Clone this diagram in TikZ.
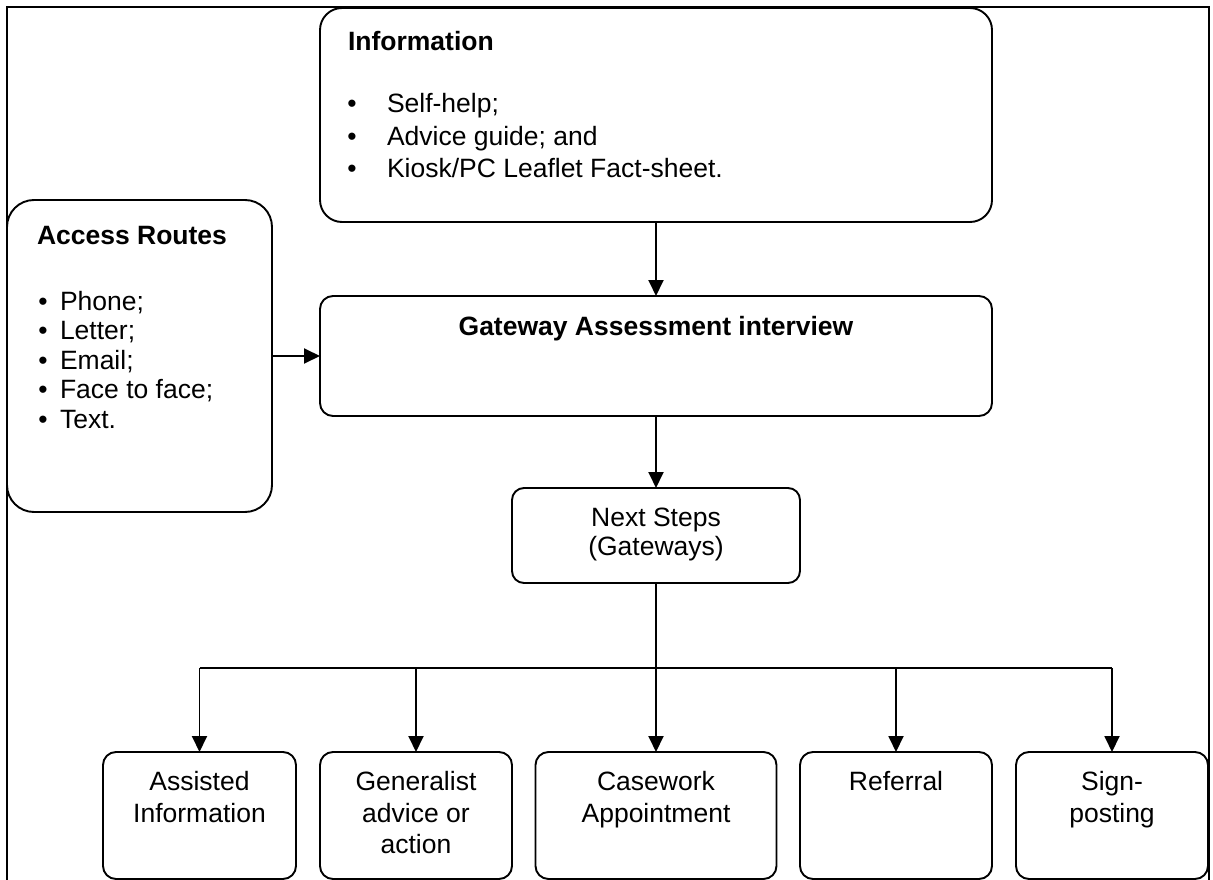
\documentclass[tikz,border=0pt]{standalone}
\usepackage{fontspec}
\setmainfont{Liberation Sans}
\usetikzlibrary{arrows.meta}
\begin{document}
\begin{tikzpicture}[x=1pt,y=-1pt,line width=1.9pt,
  box/.style={draw,rectangle,inner sep=0pt,outer sep=0pt},
  txt/.style={inner sep=0pt,outer sep=0pt,font=\fontsize{26.5}{30}\selectfont},
  hd/.style={txt,font=\fontsize{26.5}{30}\selectfont\bfseries},
  arr/.style={-{Triangle[length=16pt,width=15pt]}}]
\useasboundingbox (0,0) rectangle (1213,880);
% frame
\draw[line width=1.6pt] (7,882) -- (7,7) -- (1209,7) -- (1209,882);
% boxes
\node[box,rounded corners=22pt,minimum width=672pt,minimum height=214pt] (info) at (656,115) {};
\node[box,rounded corners=27pt,minimum width=265pt,minimum height=312pt] (access) at (139.5,356) {};
\node[box,rounded corners=13pt,minimum width=672pt,minimum height=120pt] (gate) at (656,356) {};
\node[box,rounded corners=12pt,minimum width=288pt,minimum height=95pt] (next) at (656,535.5) {};
\node[box,rounded corners=13pt,minimum width=193pt,minimum height=127pt] (b1) at (199.5,815.5) {};
\node[box,rounded corners=13pt,minimum width=192pt,minimum height=127pt] (b2) at (416,815.5) {};
\node[box,rounded corners=13pt,minimum width=241pt,minimum height=127pt] (b3) at (656,815.5) {};
\node[box,rounded corners=13pt,minimum width=192pt,minimum height=127pt] (b4) at (896,815.5) {};
\node[box,rounded corners=13pt,minimum width=192pt,minimum height=127pt] (b5) at (1112,815.5) {};
% texts: information
\node[hd,anchor=base west] (infoh) at (348,51) {Information};
\node[txt,anchor=base] (ib1) at (352,113) {•};
\node[txt,anchor=base] (ib2) at (352,145.5) {•};
\node[txt,anchor=base] (ib3) at (352,178) {•};
\node[txt,anchor=base west] (it1) at (387,113) {Self-help;};
\node[txt,anchor=base west] (it2) at (387,145.5) {Advice guide; and};
\node[txt,anchor=base west] (it3) at (387,178) {Kiosk/PC Leaflet Fact-sheet.};
% texts: access routes
\node[hd,anchor=base west] (acch) at (37,244) {Access Routes};
\node[txt,anchor=base] (ab1) at (43,310) {•};
\node[txt,anchor=base] (ab2) at (43,339.5) {•};
\node[txt,anchor=base] (ab3) at (43,369) {•};
\node[txt,anchor=base] (ab4) at (43,398.5) {•};
\node[txt,anchor=base] (ab5) at (43,428) {•};
\node[txt,anchor=base west] (at1) at (60,310) {Phone;};
\node[txt,anchor=base west] (at2) at (60,339.5) {Letter;};
\node[txt,anchor=base west] (at3) at (60,369) {Email;};
\node[txt,anchor=base west] (at4) at (60,398.5) {Face to face;};
\node[txt,anchor=base west] (at5) at (60,428) {Text.};
% gateway
\node[hd,anchor=base] (gateh) at (656,335) {Gateway Assessment interview};
% next steps
\node[txt,anchor=base] (nt1) at (656,526) {Next Steps};
\node[txt,anchor=base] (nt2) at (656,555) {(Gateways)};
% bottom texts
\node[txt,anchor=base] (t1a) at (199.5,790) {Assisted};
\node[txt,anchor=base] (t1b) at (199.5,822) {Information};
\node[txt,anchor=base] (t2a) at (416,790) {Generalist};
\node[txt,anchor=base] (t2b) at (416,822) {advice or};
\node[txt,anchor=base] (t2c) at (416,853) {action};
\node[txt,anchor=base] (t3a) at (656,790) {Casework};
\node[txt,anchor=base] (t3b) at (656,822) {Appointment};
\node[txt,anchor=base] (t4a) at (896,790) {Referral};
\node[txt,anchor=base] (t5a) at (1112,790) {Sign-};
\node[txt,anchor=base] (t5b) at (1112,822) {posting};
% connectors
\draw[arr] (info.south) -- (gate.north);
\draw[arr] (access.east) -- (gate.west);
\draw[arr] (gate.south) -- (next.north);
\coordinate (bus) at (656,668);
\draw (next.south) -- (bus);
\draw (b1.north |- bus) -- (b5.north |- bus);
\draw[arr] (b1.north |- bus) -- (b1.north);
\draw[arr] (b2.north |- bus) -- (b2.north);
\draw[arr] (bus) -- (b3.north);
\draw[arr] (b4.north |- bus) -- (b4.north);
\draw[arr] (b5.north |- bus) -- (b5.north);
\end{tikzpicture}
\end{document}
